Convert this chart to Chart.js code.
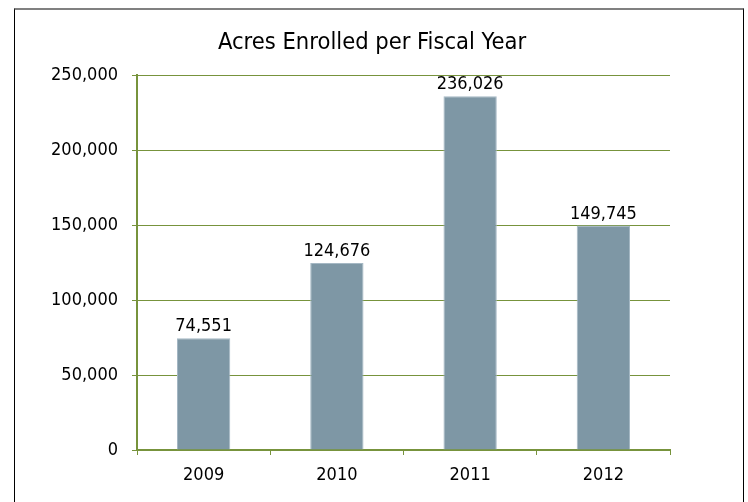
<!DOCTYPE html>
<html>
<head>
<meta charset="utf-8">
<script src="https://cdn.jsdelivr.net/npm/chart.js@4"></script>
<style>
  body { margin: 0; background: #fff; overflow: hidden; }
  #frame {
    position: absolute; left: 14px; top: 8px;
    width: 728px; height: 492px;
    border-left: 1px solid #000; border-right: 1px solid #000;
    border-top: 2px solid #808080;
  }
</style>
</head>
<body>
<div id="frame"><canvas id="acresChart"></canvas></div>
<script>
const years = ['2009', '2010', '2011', '2012'];
const acres = [74551, 124676, 236026, 149745];
const yTicks = [0, 50000, 100000, 150000, 200000, 250000];

const green = '#77933C';
const fmt = v => Number(v).toLocaleString('en-US');

Chart.defaults.font.family = "'DejaVu Sans Condensed', 'DejaVu Sans', sans-serif";
Chart.defaults.color = '#000';

// value labels above each bar
const barLabels = {
  id: 'barLabels',
  afterDatasetsDraw(chart) {
    const c = chart.ctx;
    const meta = chart.getDatasetMeta(0);
    c.save();
    c.font = "18px 'DejaVu Sans Condensed', 'DejaVu Sans', sans-serif";
    c.fillStyle = '#000';
    c.textAlign = 'center';
    c.textBaseline = 'alphabetic';
    meta.data.forEach((bar, i) => {
      c.fillText(fmt(acres[i]), bar.x, bar.y - 7);
    });
    c.restore();
  }
};

new Chart(document.getElementById('acresChart'), {
  type: 'bar',
  data: {
    labels: years,
    datasets: [{
      label: 'Acres',
      data: acres,
      backgroundColor: '#7E97A5',
      borderColor: '#A5B8C4',
      borderWidth: 1,
      barPercentage: 0.4,
      categoryPercentage: 1
    }]
  },
  options: {
    responsive: true,
    maintainAspectRatio: false,
    animation: false,
    layout: { padding: { left: 0, right: 14, top: 0, bottom: 0 } },
    scales: {
      y: {
        min: yTicks[0],
        max: yTicks[yTicks.length - 1],
        afterBuildTicks: s => { s.ticks = yTicks.map(v => ({ value: v })); },
        afterFit: s => { s.width = 122; },
        ticks: {
          callback: v => fmt(v),
          font: { size: 18 },
          padding: 14
        },
        grid: { color: green, lineWidth: 1, tickLength: 5 },
        border: { color: green, width: 2 }
      },
      // empty right-hand space so the plot ends where the reference does
      spacer: {
        type: 'linear',
        position: 'right',
        afterFit: s => { s.width = 59; },
        ticks: { display: false },
        grid: { display: false },
        border: { display: false }
      },
      x: {
        afterFit: s => { s.height = 52; },
        ticks: { font: { size: 18 }, padding: 10 },
        grid: { color: green, drawOnChartArea: false, tickLength: 5, offset: true },
        border: { color: green, width: 2 }
      }
    },
    plugins: {
      legend: { display: false },
      tooltip: { enabled: false },
      title: {
        display: true,
        text: 'Acres Enrolled per Fiscal Year',
        font: { size: 23.5, weight: 'normal' },
        padding: { top: 19, bottom: 18 }
      }
    }
  },
  plugins: [barLabels]
});
</script>
</body>
</html>
